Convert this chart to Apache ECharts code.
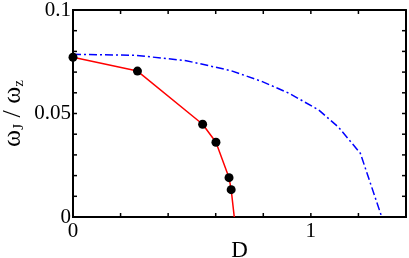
<!DOCTYPE html>
<html><head><meta charset="utf-8">
<script src="https://cdn.jsdelivr.net/npm/echarts@6/dist/echarts.min.js"></script>
<style>html,body{margin:0;padding:0;background:#fff}#c{width:409px;height:258px}</style>
</head><body><div id="c"></div>
<script>
// data
var dotsD = [0, 0.271, 0.545, 0.601, 0.656, 0.665];
var dotsW = [0.0772, 0.0705, 0.0448, 0.0361, 0.0190, 0.0132];
var redD = [0, 0.271, 0.545, 0.601, 0.656, 0.665, 0.678];
var redW = [0.0772, 0.0705, 0.0448, 0.0361, 0.0190, 0.0132, 0];
var blueD = [0, 0.266, 0.476, 0.664, 0.796, 0.908, 1.033, 1.117, 1.208, 1.298];
var blueW = [0.0786, 0.0781, 0.0755, 0.0707, 0.0654, 0.0598, 0.0517, 0.0433, 0.0308, 0];
var xTicks = [0, 0.2, 0.4, 0.6, 0.8, 1.0, 1.2, 1.4];
var yTicks = [0, 0.01, 0.02, 0.03, 0.04, 0.05, 0.06, 0.07, 0.08, 0.09, 0.1];
var xTickLabels = {0: '0', 5: '1'};
var yTickLabels = {0: '0', 5: '0.05', 10: '0.1'};
var X_MIN = 0, X_MAX = 1.4, Y_MIN = 0, Y_MAX = 0.1;

function zip(a, b) { return a.map(function (v, i) { return [v, b[i]]; }); }
var font = 'Liberation Serif';
var G = { left: 73, right: 3, top: 10, bottom: 41 };
var W = 409 - G.left - G.right, H = 258 - G.top - G.bottom;
var TL = 4;
var chart = echarts.init(document.getElementById('c'));
function frameAxisX(pos) {
  return { type: 'value', min: X_MIN, max: X_MAX, interval: 0.2, position: pos, offset: -H,
    axisLine: { show: true, onZero: false, lineStyle: { color: '#000', width: 2 } },
    splitLine: { show: false }, axisLabel: { show: false }, axisTick: { show: false } };
}
function frameAxisY(pos) {
  return { type: 'value', min: Y_MIN, max: Y_MAX, interval: 0.01, position: pos, offset: -W,
    axisLine: { show: true, onZero: false, lineStyle: { color: '#000', width: 2 } },
    splitLine: { show: false }, axisLabel: { show: false }, axisTick: { show: false } };
}
var tickStyle = { stroke: '#000', lineWidth: 1.5 };
chart.setOption({
  animation: false,
  grid: { left: G.left, right: G.right, top: G.top, bottom: G.bottom, containLabel: false, outerBoundsMode: 'none' },
  xAxis: [{
    type: 'value', min: X_MIN, max: X_MAX, interval: 0.2,
    axisLine: { show: true, lineStyle: { color: '#000', width: 2 } },
    splitLine: { show: false }, axisTick: { show: false },
    axisLabel: { fontFamily: font, fontSize: 21, color: '#000', margin: 4,
      formatter: function (v) { var k = Math.round(v * 5); return xTickLabels[k] || ''; } },
    name: 'D', nameLocation: 'middle', nameGap: 22, nameMoveOverlap: false,
    nameTextStyle: { fontFamily: font, fontSize: 23, color: '#000' }
  }, frameAxisX('top'), frameAxisX('bottom')],
  yAxis: [{
    type: 'value', min: Y_MIN, max: Y_MAX, interval: 0.01,
    axisLine: { show: true, lineStyle: { color: '#000', width: 2 } },
    splitLine: { show: false }, axisTick: { show: false },
    axisLabel: { fontFamily: font, fontSize: 21, color: '#000', margin: 2,
      formatter: function (v) { var k = Math.round(v * 100); return yTickLabels[k] || ''; } },
    name: '{w|ω}{s|J}{w| / ω}{s|z}', nameLocation: 'middle', nameGap: 46, nameRotate: 90, nameMoveOverlap: false,
    nameTextStyle: { fontFamily: font, fontSize: 26, color: '#000',
      rich: { w: { fontFamily: font, fontSize: 26, color: '#000' },
              s: { fontFamily: font, fontSize: 15, color: '#000', verticalAlign: 'bottom', padding: [12, 0, 0, 0] } } }
  }, frameAxisY('right'), frameAxisY('left')],
  series: [{
    // inward ticks on bottom and top edges, placed through the axis scale
    type: 'custom', coordinateSystem: 'cartesian2d', clip: false, silent: true, z: 5,
    data: xTicks.map(function (v) { return [v, Y_MIN]; }),
    renderItem: function (params, api) {
      var v = api.value(0);
      var b = api.coord([v, Y_MIN]), t = api.coord([v, Y_MAX]);
      return { type: 'group', children: [
        { type: 'line', shape: { x1: b[0], y1: b[1], x2: b[0], y2: b[1] - TL }, style: tickStyle },
        { type: 'line', shape: { x1: t[0], y1: t[1], x2: t[0], y2: t[1] + TL }, style: tickStyle }
      ] };
    }
  }, {
    // inward ticks on left and right edges
    type: 'custom', coordinateSystem: 'cartesian2d', clip: false, silent: true, z: 5,
    data: yTicks.map(function (v) { return [X_MIN, v]; }),
    renderItem: function (params, api) {
      var v = api.value(1);
      var l = api.coord([X_MIN, v]), r = api.coord([X_MAX, v]);
      return { type: 'group', children: [
        { type: 'line', shape: { x1: l[0], y1: l[1], x2: l[0] + TL, y2: l[1] }, style: tickStyle },
        { type: 'line', shape: { x1: r[0], y1: r[1], x2: r[0] - TL, y2: r[1] }, style: tickStyle }
      ] };
    }
  }, {
    type: 'line', data: zip(blueD, blueW), smooth: false, showSymbol: false,
    lineStyle: { color: '#0000ff', width: 1.5, type: [8, 3, 2, 3] }, z: 2
  }, {
    type: 'line', data: zip(redD, redW), smooth: false, showSymbol: false,
    lineStyle: { color: '#ff0000', width: 1.5 }, z: 3
  }, {
    type: 'scatter', data: zip(dotsD, dotsW), symbolSize: 9,
    itemStyle: { color: '#000', opacity: 1 }, z: 4
  }]
});
</script></body></html>
